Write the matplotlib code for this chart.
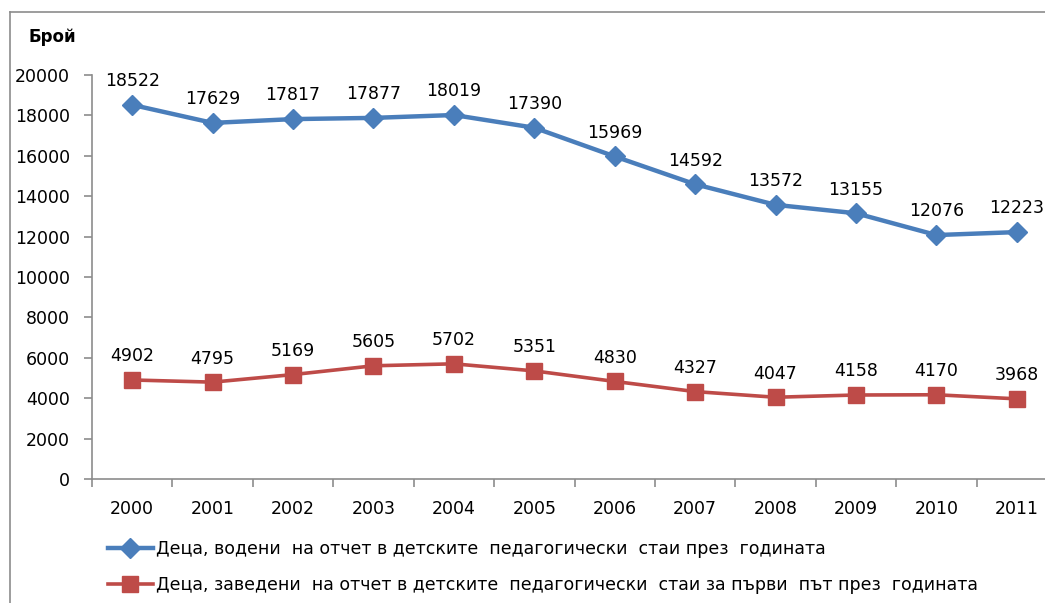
import matplotlib
matplotlib.use("Agg")
import matplotlib.pyplot as plt
from matplotlib.lines import Line2D

years = ["2000", "2001", "2002", "2003", "2004", "2005", "2006", "2007", "2008", "2009", "2010", "2011"]
series_total = [18522, 17629, 17817, 17877, 18019, 17390, 15969, 14592, 13572, 13155, 12076, 12223]
series_first = [4902, 4795, 5169, 5605, 5702, 5351, 4830, 4327, 4047, 4158, 4170, 3968]
name_total = "Деца, водени  на отчет в детските  педагогически  стаи през  годината"
name_first = "Деца, заведени  на отчет в детските  педагогически  стаи за първи  път през  годината"
y_ticks = list(range(0, 20001, 2000))

plt.rcParams['font.family'] = ['DejaVu Sans']
W, H = 1045, 603
fig = plt.figure(figsize=(W / 100, H / 100), dpi=100)

# outer chart frame (partially off-canvas)
fig.add_artist(Line2D([10 / W, 10 / W], [0, 1 - 12 / H], transform=fig.transFigure, color="#8c8c8c", lw=1.2))
fig.add_artist(Line2D([10 / W, 1], [1 - 12 / H, 1 - 12 / H], transform=fig.transFigure, color="#8c8c8c", lw=1.2))

ax = fig.add_axes([92 / W, (H - 479) / H, 965 / W, 404 / H])
x = list(range(len(years)))
blue = "#4A7EBB"
red = "#BE4B48"
ax.plot(x, series_total, color=blue, lw=3.2, marker="D", markersize=10, zorder=3, clip_on=False)
ax.plot(x, series_first, color=red, lw=2.6, marker="s", markersize=11, zorder=3, clip_on=False)

fs = 12.5
for xi, v in zip(x, series_total):
    ax.annotate(str(v), (xi, v), xytext=(0, 17), textcoords="offset points", ha="center", va="center", fontsize=fs, annotation_clip=False)
for xi, v in zip(x, series_first):
    ax.annotate(str(v), (xi, v), xytext=(0, 17), textcoords="offset points", ha="center", va="center", fontsize=fs, annotation_clip=False)

ax.set_xlim(-0.5, len(years) - 0.5)
ax.set_ylim(0, 20000)
ax.set_yticks(y_ticks)
ax.set_yticklabels([str(t) for t in y_ticks], fontsize=fs)
ax.set_xticks(x)
ax.set_xticklabels(years, fontsize=fs)
ax.set_xticks([i - 0.5 for i in range(len(years) + 1)], minor=True)
ax.tick_params(axis="x", which="major", length=0, pad=15)
ax.tick_params(axis="x", which="minor", length=6, color="#8c8c8c", width=1.2, direction="out")
ax.tick_params(axis="y", length=6, color="#8c8c8c", width=1.2, pad=10)
for s in ["top", "right"]:
    ax.spines[s].set_visible(False)
for s in ["left", "bottom"]:
    ax.spines[s].set_color("#8c8c8c")
    ax.spines[s].set_linewidth(1.2)

fig.text(28 / W, 1 - 37 / H, "Брой", fontsize=12, fontweight="bold", ha="left", va="center")

handles = [
    Line2D([], [], color=blue, lw=3.2, marker="D", markersize=10),
    Line2D([], [], color=red, lw=2.6, marker="s", markersize=11),
]
fig.legend(handles, [name_total, name_first], loc="upper left", bbox_to_anchor=(92 / W, 1 - 524 / H),
           frameon=False, fontsize=12.5, handlelength=2.6, handletextpad=0.2, labelspacing=1.05)

fig.savefig("out.png", dpi=100)
